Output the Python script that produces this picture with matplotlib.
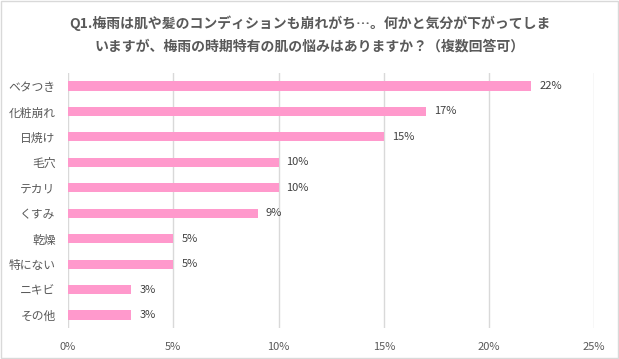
import matplotlib.pyplot as plt
from matplotlib.patches import Rectangle

plt.rcParams['font.family'] = ['Noto Sans CJK JP', 'DejaVu Sans']

categories = ['ベタつき', '化粧崩れ', '日焼け', '毛穴', 'テカリ', 'くすみ', '乾燥', '特にない', 'ニキビ', 'その他']
values = [22, 17, 15, 10, 10, 9, 5, 5, 3, 3]
xticks = [0, 5, 10, 15, 20, 25]

title = ('Q1.梅雨は肌や髪のコンディションも崩れがち…。何かと気分が下がってしま\n'
         'いますが、梅雨の時期特有の肌の悩みはありますか？（複数回答可）')

text_color = '#595959'
bar_color = '#FF99CC'

fig = plt.figure(figsize=(6.19, 3.59), dpi=100)
ax = fig.add_axes([0.110, 0.087, 0.850, 0.709])

y = list(range(len(categories)))
ax.barh(y, values, height=0.36, color=bar_color, zorder=3)

for i, v in enumerate(values):
    ax.text(v + 0.38, i, '%d%%' % v, va='center', ha='left', fontsize=8, color='#404040')

ax.set_xlim(0, 25)
ax.set_ylim(len(categories) - 0.5, -0.5)
ax.set_xticks(xticks)
ax.set_xticklabels(['%d%%' % t for t in xticks])
ax.set_yticks(y)
ax.set_yticklabels(categories)
ax.tick_params(axis='x', length=0, pad=10, labelsize=8, labelcolor=text_color)
ax.tick_params(axis='y', length=0, pad=9, labelsize=8.5, labelcolor=text_color)
ax.grid(axis='x', color='#D9D9D9', linewidth=1, zorder=0)
for s in ax.spines.values():
    s.set_visible(False)

fig.text(0.5, 0.903, title, ha='center', va='center', fontsize=10, fontweight='bold',
         color=text_color, linespacing=1.8)

fig.patches.append(Rectangle((0.001, 0.002), 0.997, 0.995, transform=fig.transFigure,
                             fill=False, edgecolor='#D9D9D9', linewidth=1))

fig.savefig('out.png', dpi=100)
